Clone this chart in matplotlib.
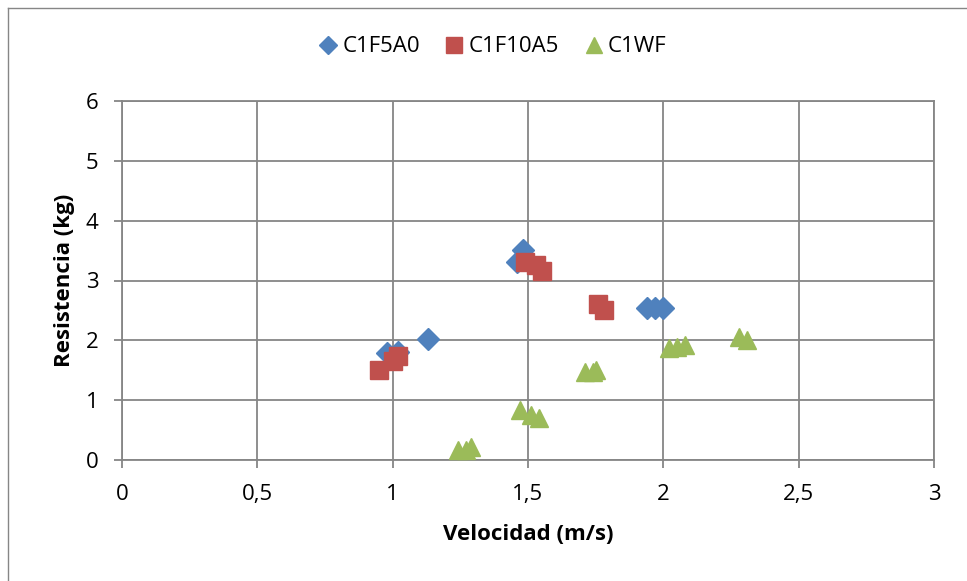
import matplotlib.pyplot as plt
from matplotlib.lines import Line2D

plt.rcParams['font.family'] = ['Open Sans', 'DejaVu Sans']

# C1F5A0 (blue diamonds)
v_a = [0.98, 1.02, 1.13, 1.46, 1.48, 1.94, 1.97, 2.00]
r_a = [1.78, 1.80, 2.02, 3.31, 3.51, 2.54, 2.54, 2.54]

# C1F10A5 (red squares)
v_b = [0.95, 1.00, 1.02, 1.49, 1.53, 1.55, 1.76, 1.78]
r_b = [1.50, 1.66, 1.74, 3.31, 3.26, 3.16, 2.61, 2.51]

# C1WF (green triangles)
v_c = [1.24, 1.27, 1.29, 1.47, 1.51, 1.54, 1.71, 1.74, 1.75,
       2.02, 2.05, 2.08, 2.28, 2.31]
r_c = [0.17, 0.17, 0.22, 0.84, 0.75, 0.70, 1.47, 1.47, 1.50,
       1.87, 1.89, 1.92, 2.06, 2.01]

x_ticks = [0, 0.5, 1, 1.5, 2, 2.5, 3]
x_labels = ['0', '0,5', '1', '1,5', '2', '2,5', '3']
y_ticks = [0, 1, 2, 3, 4, 5, 6]

fig = plt.figure(figsize=(9.67, 5.81), dpi=100)
ax = fig.add_axes([122/967, 1 - 460/581, (934-122)/967, (460-101)/581])

ax.plot(v_a, r_a, 'D', color='#4F81BD', ms=11, mec='#4F81BD', label='C1F5A0', zorder=3)
ax.plot(v_b, r_b, 's', color='#C0504D', ms=13.5, mec='#C0504D', label='C1F10A5', zorder=3)
ax.plot(v_c, r_c, '^', color='#9BBB59', ms=13.5, mec='#9BBB59', label='C1WF', zorder=3)

ax.set_xlim(0, 3)
ax.set_ylim(0, 6)
ax.set_xticks(x_ticks)
ax.set_xticklabels(x_labels)
ax.set_yticks(y_ticks)
ax.grid(True, color='#868686', lw=1.3)
ax.set_axisbelow(True)
for s in ax.spines.values():
    s.set_color('#868686')
    s.set_linewidth(1.3)
ax.tick_params(axis='both', labelsize=16, color='#868686', width=1.3, length=5.8)
ax.tick_params(axis='x', pad=11.5)
ax.tick_params(axis='y', pad=11)
ax.set_xlabel('Velocidad (m/s)', fontsize=16, fontweight='bold')
ax.set_ylabel('Resistencia (kg)', fontsize=16, fontweight='bold')
ax.xaxis.set_label_coords(0.5, -0.178)
ax.yaxis.set_label_coords(-0.058, 0.5)

fig.legend(loc='center', bbox_to_anchor=(0.509, 1 - 47/581), ncol=3, frameon=False,
           fontsize=16, handlelength=0.9, handletextpad=0.2, columnspacing=1.1,
           markerscale=0.82)

# chart area border (left and top visible in the crop)
fig.add_artist(Line2D([8/967, 8/967], [0, 1 - 8/581], transform=fig.transFigure,
                      color='#868686', lw=1))
fig.add_artist(Line2D([8/967, 1], [1 - 8/581, 1 - 8/581], transform=fig.transFigure,
                      color='#868686', lw=1))

fig.savefig('out.png', dpi=100)
